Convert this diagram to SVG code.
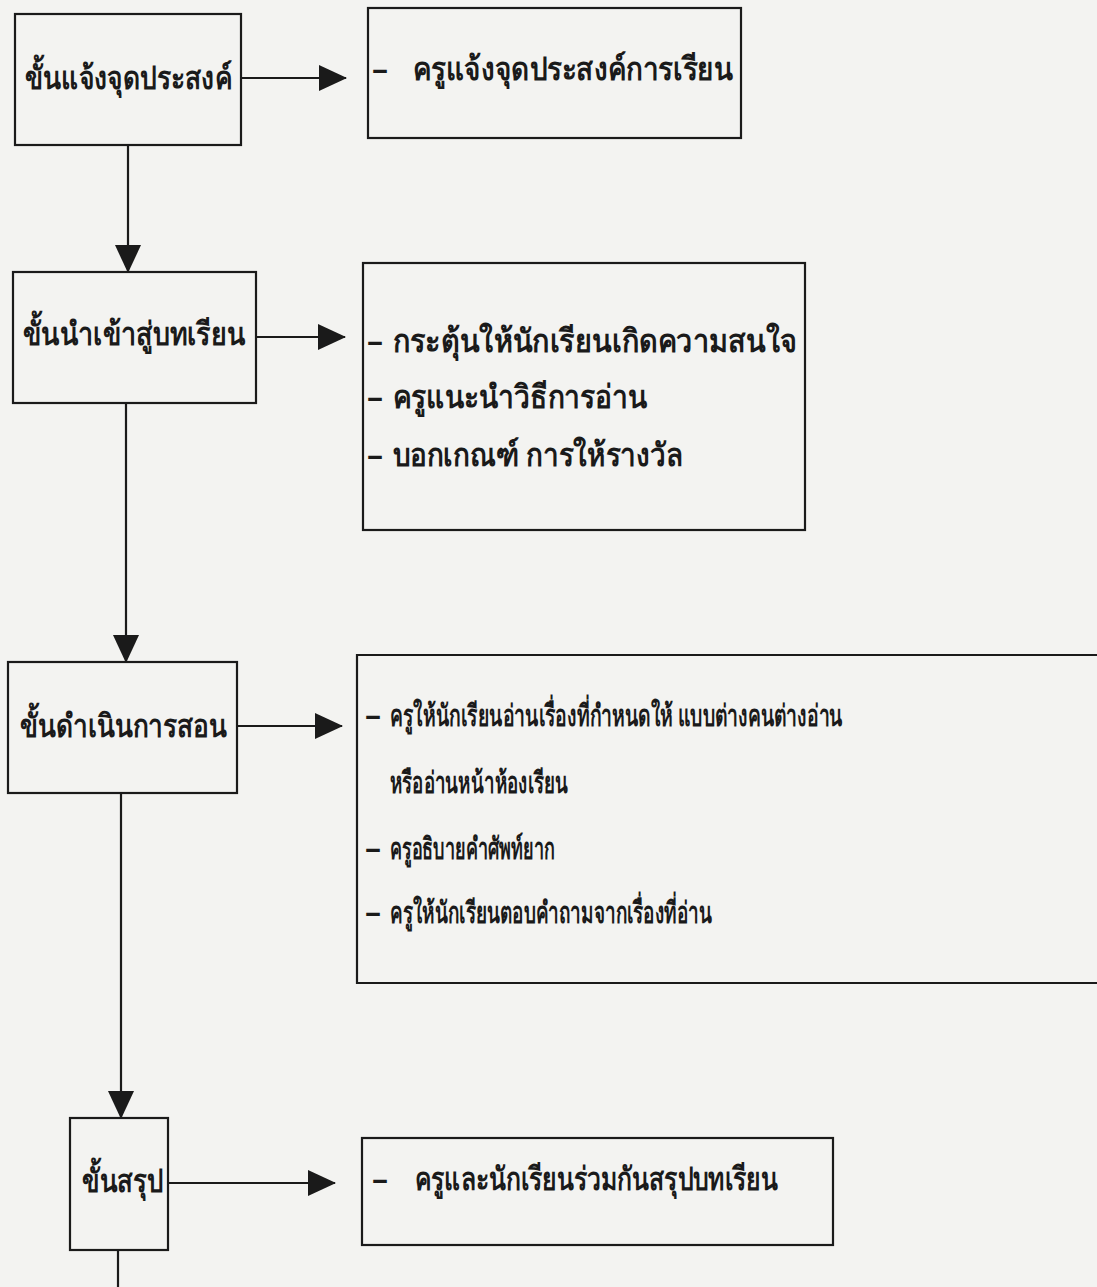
<svg xmlns="http://www.w3.org/2000/svg" width="1097" height="1287" viewBox="0 0 1097 1287">
<defs>
<style>
.box{fill:none;stroke:#1a1a1a;stroke-width:2.2}
.ln{fill:none;stroke:#1a1a1a;stroke-width:2.2}
.t{font-family:"Noto Sans","DejaVu Sans",sans-serif;font-size:32px;font-weight:600;fill:#1a1a1a}
.s{font-size:30px}
</style>
<marker id="ah" markerUnits="userSpaceOnUse" markerWidth="28" markerHeight="26" viewBox="0 0 28 26" refX="27" refY="13" orient="auto">
<path d="M0,0 L28,13 L0,26 z" fill="#1a1a1a"/>
</marker>
</defs>
<rect width="1097" height="1287" fill="#f3f3f1"/>
<g id="connectors">
<line class="ln" x1="241" y1="78" x2="346" y2="78" marker-end="url(#ah)"/>
<line class="ln" x1="256" y1="337" x2="345" y2="337" marker-end="url(#ah)"/>
<line class="ln" x1="237" y1="726" x2="342" y2="726" marker-end="url(#ah)"/>
<line class="ln" x1="168" y1="1183" x2="335" y2="1183" marker-end="url(#ah)"/>
<line class="ln" x1="128" y1="145" x2="128" y2="272" marker-end="url(#ah)"/>
<line class="ln" x1="126" y1="403" x2="126" y2="662" marker-end="url(#ah)"/>
<line class="ln" x1="121" y1="793" x2="121" y2="1118" marker-end="url(#ah)"/>
<line class="ln" x1="118" y1="1250" x2="118" y2="1287"/>
</g>
<g id="step1">
<rect class="box" x="15" y="14" width="226" height="131"/>
<text class="t" x="25" y="89" textLength="207" lengthAdjust="spacingAndGlyphs">ขั้นแจ้งจุดประสงค์</text>
</g>
<g id="detail1">
<rect class="box" x="368" y="8" width="373" height="130"/>
<text class="t" x="372" y="80">–</text>
<text class="t" x="413" y="80" textLength="320" lengthAdjust="spacingAndGlyphs">ครูแจ้งจุดประสงค์การเรียน</text>
</g>
<g id="step2">
<rect class="box" x="13" y="272" width="243" height="131"/>
<text class="t" x="23" y="345" textLength="222" lengthAdjust="spacingAndGlyphs">ขั้นนำเข้าสู่บทเรียน</text>
</g>
<g id="detail2">
<rect class="box" x="363" y="263" width="442" height="267"/>
<text class="t" x="367" y="352">–</text>
<text class="t" x="393" y="352" textLength="404" lengthAdjust="spacingAndGlyphs">กระตุ้นให้นักเรียนเกิดความสนใจ</text>
<text class="t" x="367" y="408">–</text>
<text class="t" x="393" y="408" textLength="254" lengthAdjust="spacingAndGlyphs">ครูแนะนำวิธีการอ่าน</text>
<text class="t" x="367" y="466">–</text>
<text class="t" x="393" y="466" textLength="290" lengthAdjust="spacingAndGlyphs">บอกเกณฑ์ การให้รางวัล</text>
</g>
<g id="step3">
<rect class="box" x="8" y="662" width="229" height="131"/>
<text class="t" x="20" y="737" textLength="207" lengthAdjust="spacingAndGlyphs">ขั้นดำเนินการสอน</text>
</g>
<g id="detail3">
<path class="box" d="M1097,655 H357 V983 H1097"/>
<text class="t" x="365" y="726">–</text>
<text class="t s" x="390" y="726" textLength="453" lengthAdjust="spacingAndGlyphs">ครูให้นักเรียนอ่านเรื่องที่กำหนดให้ แบบต่างคนต่างอ่าน</text>
<text class="t s" x="390" y="793" textLength="178" lengthAdjust="spacingAndGlyphs">หรืออ่านหน้าห้องเรียน</text>
<text class="t" x="365" y="859">–</text>
<text class="t s" x="390" y="859" textLength="165" lengthAdjust="spacingAndGlyphs">ครูอธิบายคำศัพท์ยาก</text>
<text class="t" x="365" y="923">–</text>
<text class="t s" x="390" y="923" textLength="322" lengthAdjust="spacingAndGlyphs">ครูให้นักเรียนตอบคำถามจากเรื่องที่อ่าน</text>
</g>
<g id="step4">
<rect class="box" x="70" y="1118" width="98" height="132"/>
<text class="t" x="82" y="1192" textLength="81" lengthAdjust="spacingAndGlyphs">ขั้นสรุป</text>
</g>
<g id="detail4">
<rect class="box" x="362" y="1138" width="471" height="107"/>
<text class="t" x="372" y="1190">–</text>
<text class="t" x="415" y="1190" textLength="363" lengthAdjust="spacingAndGlyphs">ครูและนักเรียนร่วมกันสรุปบทเรียน</text>
</g>
</svg>
